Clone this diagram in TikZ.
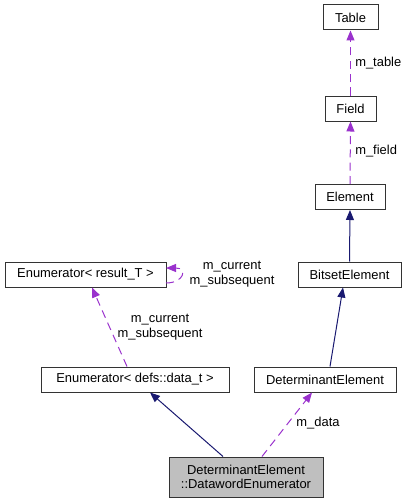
\documentclass[tikz,border=0pt]{standalone}
\usepackage{fontspec}
\setmainfont{Liberation Sans}
\usetikzlibrary{arrows.meta}
\definecolor{dep}{HTML}{9A32CD}
\definecolor{inh}{HTML}{191970}
\begin{document}
\begin{tikzpicture}[x=0.75pt,y=-0.75pt,
  every node/.style={font=\fontsize{9.7}{10.8}\selectfont, inner sep=0pt},
  cls/.style={draw=black!80, line width=0.75pt, minimum height=18.75pt, fill=white},
  usedep/.style={draw=dep, dashed, dash pattern=on 6pt off 4pt, line width=0.75pt, -{Triangle[length=7.5pt,width=6pt]}, color=dep},
  inher/.style={draw=inh, line width=0.75pt, -{Triangle[length=7.5pt,width=6pt]}, color=inh},
  lbl/.style={align=center, text=black}]
\useasboundingbox (0,0) rectangle (408,503);
\node[cls, minimum width=41.25pt] (table) at (350.5,17.5) {Table};
\node[cls, minimum width=38.25pt] (field) at (350.5,108.5) {Field};
\node[cls, minimum width=52.5pt] (element) at (350,197) {Element};
\node[cls, minimum width=77.25pt] (bitset) at (349.5,274.5) {BitsetElement};
\node[cls, minimum width=120.75pt] (enumr) at (85.5,274.5) {Enumerator< result\_T >};
\node[cls, minimum width=141pt] (enumd) at (135,379.5) {Enumerator< defs::data\_t >};
\node[cls, minimum width=106.5pt] (detel) at (325,379.5) {DeterminantElement};
\node[cls, minimum width=115.5pt, minimum height=30pt, fill=black!25, align=center] (dwe) at (246,477) {DeterminantElement\\::DatawordEnumerator};

\draw[usedep] (field.north) -- (table.south);
\node[lbl, anchor=west] at (355,63) {m\_table};
\draw[usedep] (element.north) -- (field.south);
\node[lbl, anchor=west] at (355,151) {m\_field};
\draw[inher] (bitset.north) -- (element.south);
\draw[inher] (detel.north -| 330,0) -- (bitset.south -| 343,0);
\draw[inher] (dwe.north -| 223,0) -- (enumd.south -| 150,0);
\draw[usedep] (dwe.north -| 262,0) -- (detel.south -| 312,0);
\node[lbl] at (318,423) {m\_data};
\draw[usedep] (enumd.north -| 127,0) -- (enumr.south -| 92,0);
\node[lbl] at (160,327) {m\_current\\m\_subsequent};
\coordinate (lt) at (166,283);
\coordinate (lh) at (166,268);
\draw[usedep] (lt) .. controls (184,283) and (188,268) .. (lh);
\node[lbl] at (232,274) {m\_current\\m\_subsequent};
\end{tikzpicture}
\end{document}
